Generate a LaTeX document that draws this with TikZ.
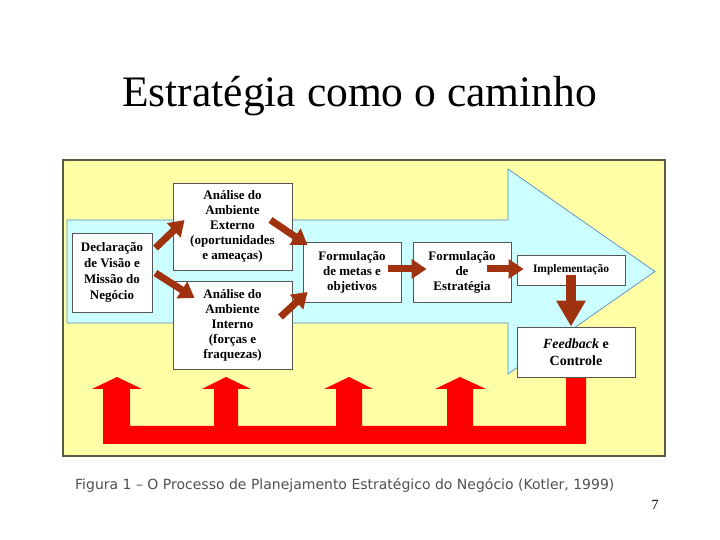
\documentclass[tikz,border=0pt]{standalone}
\usepackage{fontspec}
\setmainfont{Liberation Serif}
\newfontfamily\capfont{DejaVu Sans}
\usetikzlibrary{arrows.meta,calc,shadows}
\definecolor{panelyellow}{RGB}{255,255,165}
\definecolor{paneledge}{RGB}{90,90,70}
\definecolor{arrowcyan}{RGB}{204,255,255}
\definecolor{arrowedge}{RGB}{90,140,200}
\definecolor{brownarr}{RGB}{160,50,15}
\definecolor{capgray}{RGB}{80,80,80}
\definecolor{boxedge}{RGB}{85,85,85}
\definecolor{fbred}{RGB}{255,0,0}
\tikzset{
  boxst/.style={draw=boxedge, line width=0.9pt, fill=white, align=center,
    inner sep=0pt, font=\bfseries\fontsize{13}{15}\selectfont,
    drop shadow={shadow xshift=1.2pt, shadow yshift=-1.2pt, fill=black!45, opacity=1}},
  brarrow/.style={draw=brownarr, line width=7pt, line cap=butt,
    -{Triangle[length=15pt,width=19pt]}},
  bigbrarrow/.style={draw=brownarr, line width=10pt, line cap=butt,
    -{Triangle[length=26pt,width=28pt]}}
}
\begin{document}
\begin{tikzpicture}[x=1pt,y=1pt]
\useasboundingbox (0,0) rectangle (720,540);
\fill[white] (0,0) rectangle (720,540);
% title
\node[font=\fontsize{43.5}{48}\selectfont, anchor=base west, inner sep=0pt] (title) at (122,433) {Estratégia como o caminho};
% panel
\draw[panelyellow, fill=panelyellow] (63,84) rectangle (665,380);
\draw[paneledge, line width=1.3pt] (63,84) rectangle (665,380);
% big cyan arrow
\draw[arrowedge, line width=0.7pt, fill=arrowcyan]
  (67,320) -- (508,320) -- (508,371) -- (655,268.5) -- (508,166) -- (508,217) -- (67,217) -- cycle;
% red feedback arrows
\fill[fbred] (103,96) -- (586,96) -- (586,163) -- (566,163) -- (566,114)
  -- (473,114) -- (473,151) -- (486,151) -- (460,163) -- (435,151) -- (447,151) -- (447,114)
  -- (362,114) -- (362,151) -- (373,151) -- (349,163) -- (324,151) -- (336,151) -- (336,114)
  -- (238,114) -- (238,151) -- (251,151) -- (226,163) -- (202,151) -- (214,151) -- (214,114)
  -- (130,114) -- (130,151) -- (142,151) -- (117,163) -- (92,151) -- (103,151) -- cycle;
% boxes
\node[boxst, minimum width=80pt, minimum height=79pt, font=\bfseries\fontsize{13}{16}\selectfont] (decl) at (112,267.5)
  {Declaração\\de Visão e\\Missão do\\Negócio};
\node[boxst, minimum width=119pt, minimum height=87pt] (ext) at (232.5,313.5)
  {Análise do\\Ambiente\\Externo\\(oportunidades\\e ameaças)};
\node[boxst, minimum width=119pt, minimum height=88pt] (int) at (232.5,215)
  {Análise do\\Ambiente\\Interno\\(forças e\\fraquezas)};
\node[boxst, minimum width=98pt, minimum height=60pt] (metas) at (352,268)
  {Formulação\\de metas e\\objetivos};
\node[boxst, minimum width=98pt, minimum height=60pt] (estr) at (462,268)
  {Formulação\\de\\Estratégia};
\node[boxst, minimum width=108pt, minimum height=30pt, font=\bfseries\fontsize{11.5}{14}\selectfont] (impl) at (571,270)
  {Implementação};
\node[boxst, minimum width=118pt, minimum height=50pt, font=\bfseries\fontsize{14}{17}\selectfont] (feed) at (576,188)
  {{\itshape Feedback} e\\Controle};
% brown connectors
\draw[brarrow] ($(decl.east)+(3,24.5)$) -- ($(ext.west)+(12,6.5)$);
\draw[brarrow] ($(decl.east)+(3,-0.5)$) -- ($(int.west)+(22,27)$);
\draw[brarrow] ($(ext.east)+(-22,6.5)$) -- ($(metas.west)+(5,27)$);
\draw[brarrow] ($(int.east)+(-12,8)$) -- ($(metas.west)+(5,-20)$);
\draw[brarrow] ($(metas.east)+(-13,3)$) -- ($(estr.west)+(14,3)$);
\draw[brarrow] ($(estr.east)+(-24,3)$) -- ($(impl.west)+(7,1)$);
\draw[bigbrarrow] ($(impl.south)+(0,10)$) -- (impl.south |- feed.north);
% caption
\node[font=\capfont\fontsize{14}{16}\selectfont, text=capgray, anchor=west, inner sep=0pt] (cap) at (75,55)
  {Figura 1 – O Processo de Planejamento Estratégico do Negócio (Kotler, 1999)};
\node[font=\fontsize{14}{16}\selectfont, anchor=base, inner sep=0pt] (pnum) at (655,30) {7};
\end{tikzpicture}
\end{document}
